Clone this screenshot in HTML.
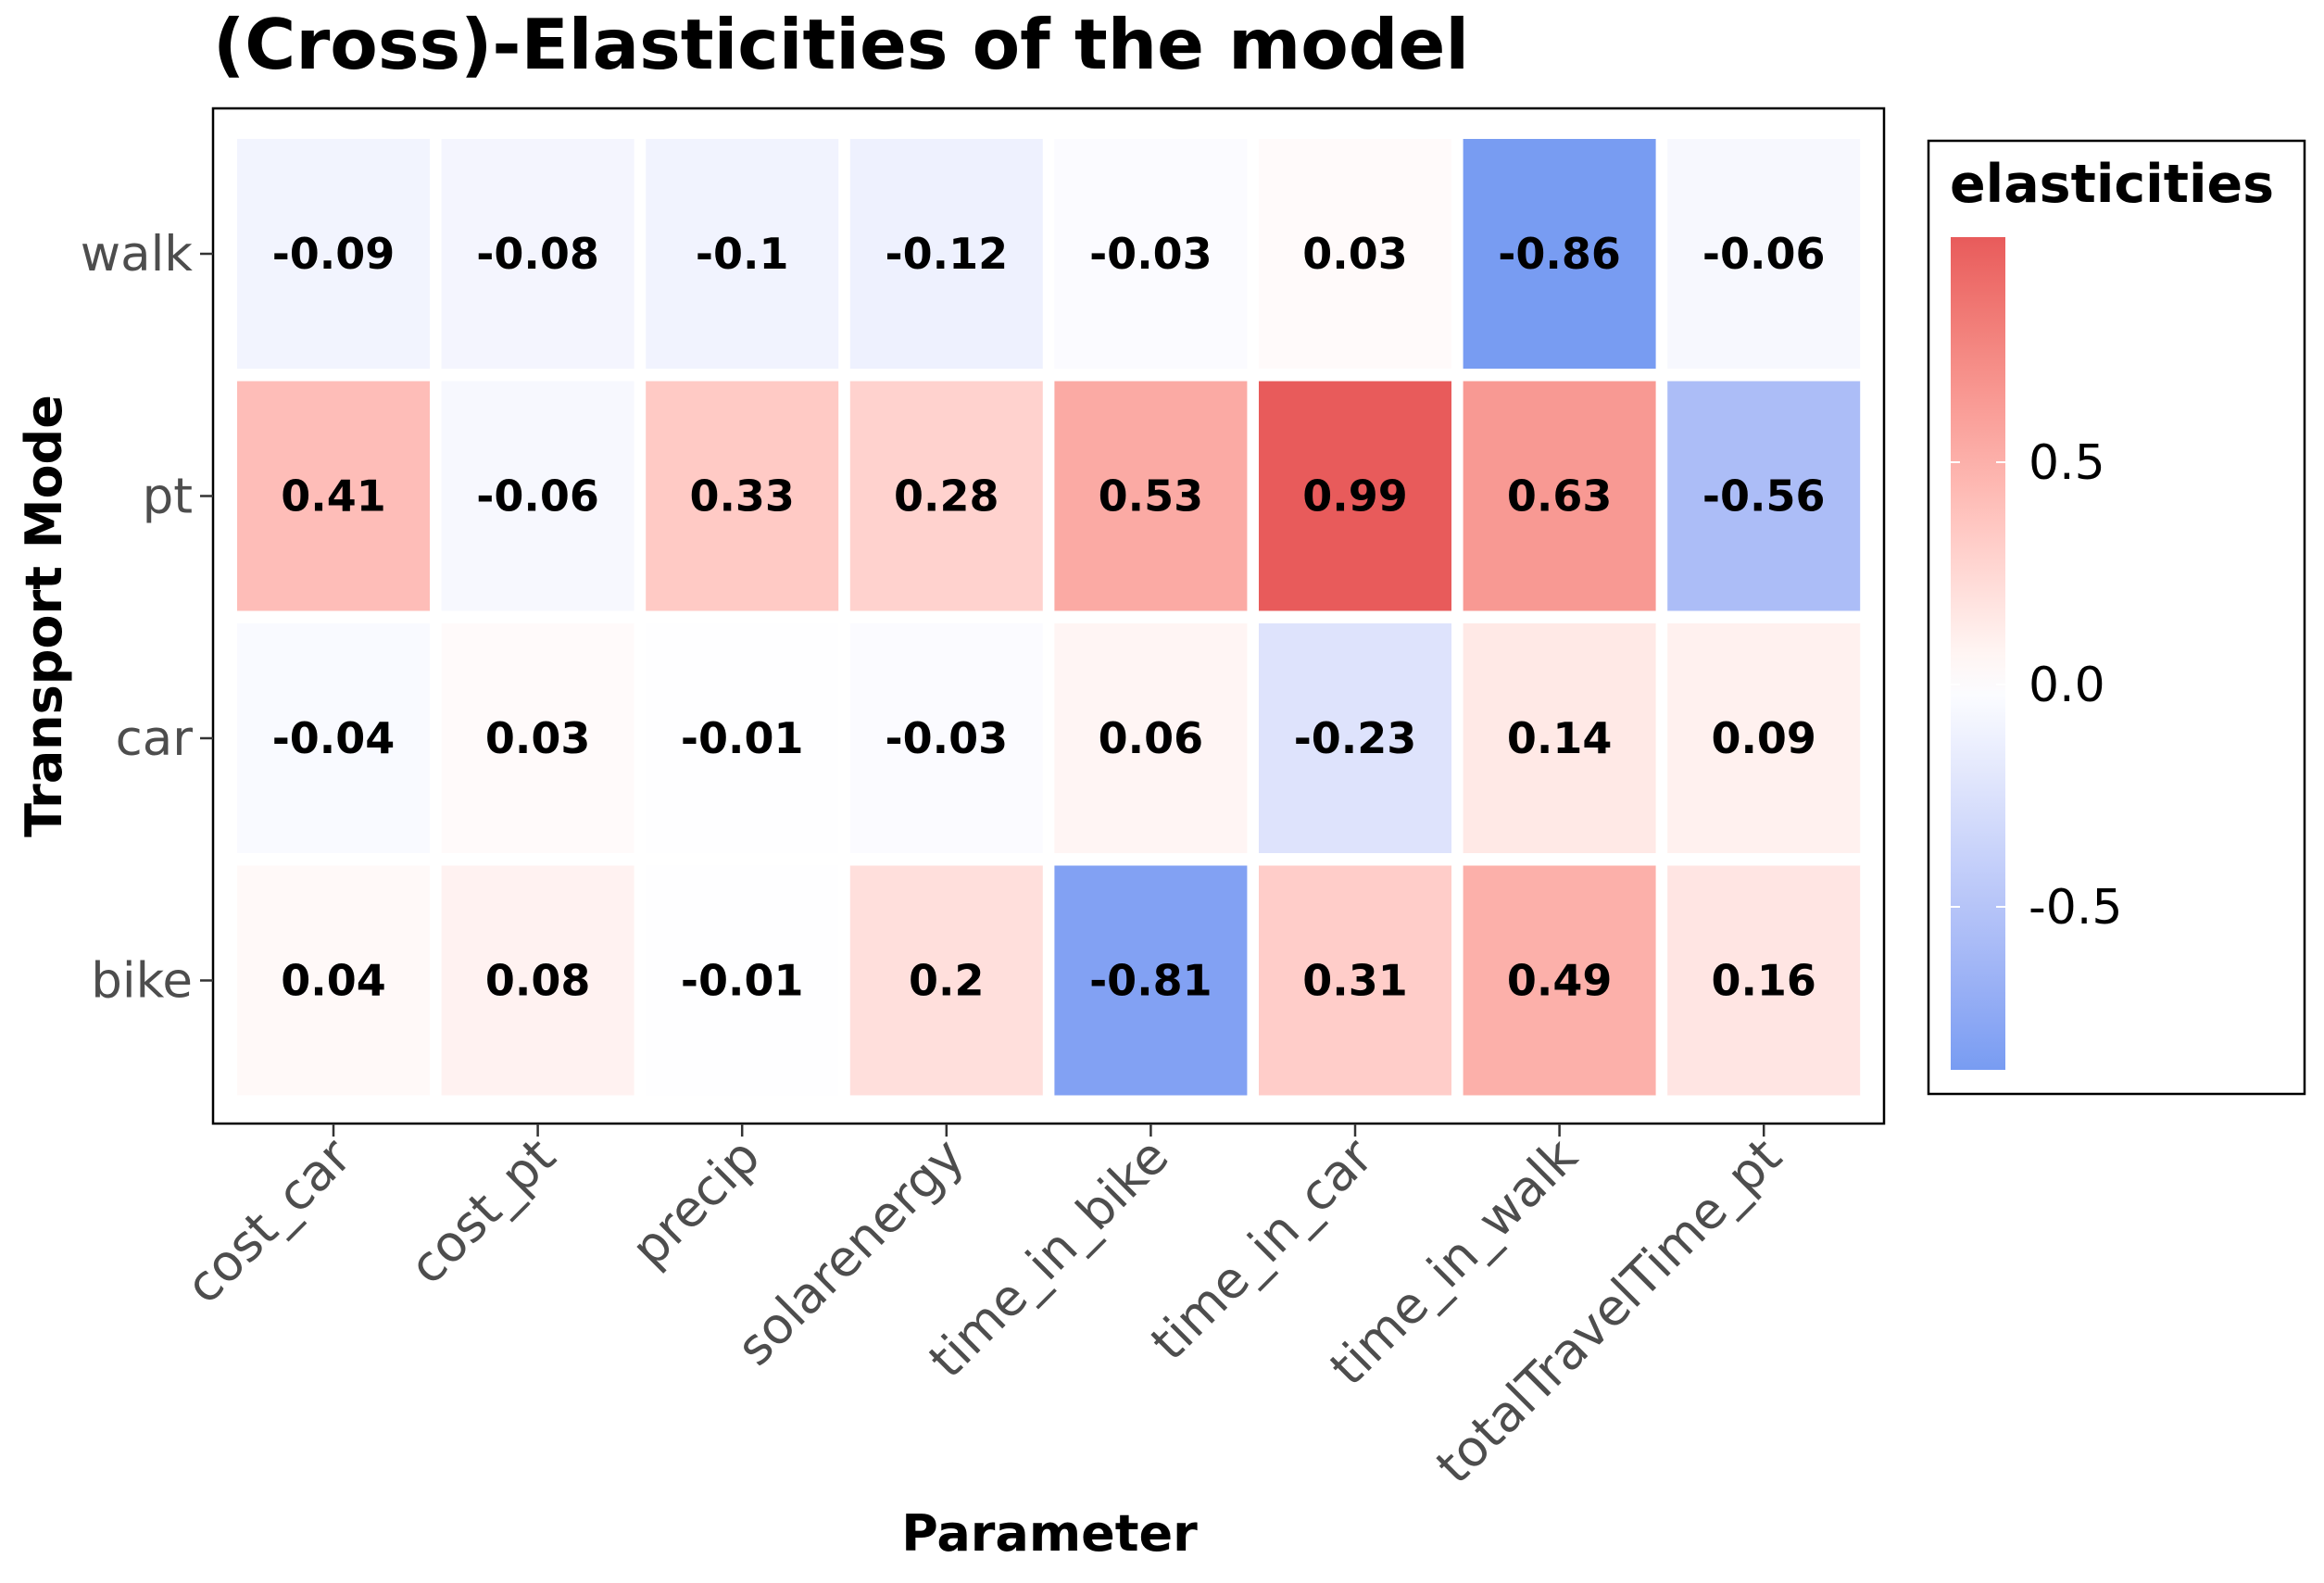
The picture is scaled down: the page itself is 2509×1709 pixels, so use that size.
<!DOCTYPE html>
<html><head><meta charset="utf-8"><style>
html,body{margin:0;padding:0;background:#fff;}
svg{display:block;font-family:"DejaVu Sans","Liberation Sans",sans-serif;}
</style></head><body>
<svg id="chart" width="2509" height="1709" viewBox="0 0 2509 1709">
<text x="230" y="74" font-size="75" font-weight="bold" fill="#000">(Cross)-Elasticities of the model</text>
<rect x="230" y="117" width="1804" height="1096" fill="#fff" stroke="#000" stroke-width="2.5"/>
<g id="cells"></g>
<g id="xaxis"></g>
<g id="yaxis"></g>
<text x="1133" y="1674" font-size="54" font-weight="bold" text-anchor="middle">Parameter</text>
<text transform="translate(66,665) rotate(-90)" font-size="54" font-weight="bold" text-anchor="middle">Transport Mode</text>
<rect x="2082" y="152" width="406" height="1029" fill="#fff" stroke="#000" stroke-width="2.5"/>
<text x="2105" y="218" font-size="57" font-weight="bold">elasticities</text>
<defs><linearGradient id="cb" x1="0" y1="0" x2="0" y2="1">
</linearGradient></defs>
<rect x="2106" y="256" width="59" height="899" fill="url(#cb)"/>
<g id="legend"></g>
</svg>
<script>
const NS="http://www.w3.org/2000/svg";
const params=["cost_car","cost_pt","precip","solarenergy","time_in_bike","time_in_car","time_in_walk","totalTravelTime_pt"];
const modes=["walk","pt","car","bike"];
const walkVals=[-0.09,-0.08,-0.1,-0.12,-0.03,0.03,-0.86,-0.06];
const ptVals=[0.41,-0.06,0.33,0.28,0.53,0.99,0.63,-0.56];
const carVals=[-0.04,0.03,-0.01,-0.03,0.06,-0.23,0.14,0.09];
const bikeVals=[0.04,0.08,-0.01,0.2,-0.81,0.31,0.49,0.16];
const legendTicks=[0.5,0.0,-0.5];
const legendLabels=["0.5","0.0","-0.5"];
const rows=[walkVals,ptVals,carVals,bikeVals];
const vmax=0.99, vmin=-0.86;
const x0=256, pitchX=220.6, tileW=208;
const y0=150, pitchY=261.5, tileH=248;
function xc(i){return x0+pitchX*i+tileW/2;}
function yc(j){return y0+pitchY*j+tileH/2;}
function legY(v){return 739-v*480;}
function toLin(c){c/=255;return c<=0.04045?c/12.92:Math.pow((c+0.055)/1.055,2.4);}
function fromLin(c){c=c<=0.0031308?12.92*c:1.055*Math.pow(c,1/2.4)-0.055;return Math.round(Math.min(1,Math.max(0,c))*255);}
function rgb2lab(r){const l=r.map(toLin);let X=(0.4124*l[0]+0.3576*l[1]+0.1805*l[2])/0.95047,Y=0.2126*l[0]+0.7152*l[1]+0.0722*l[2],Z=(0.0193*l[0]+0.1192*l[1]+0.9505*l[2])/1.08883;
 const f=t=>t>0.008856?Math.cbrt(t):7.787*t+16/116;const fx=f(X),fy=f(Y),fz=f(Z);return[116*fy-16,500*(fx-fy),200*(fy-fz)];}
function lab2rgb(L){const fy=(L[0]+16)/116,fx=fy+L[1]/500,fz=fy-L[2]/200;const g=t=>t*t*t>0.008856?t*t*t:(t-16/116)/7.787;
 const X=g(fx)*0.95047,Y=g(fy),Z=g(fz)*1.08883;
 return[fromLin(3.2406*X-1.5372*Y-0.4986*Z),fromLin(-0.9689*X+1.8758*Y+0.0415*Z),fromLin(0.0557*X-0.2040*Y+1.0570*Z)];}
const W=rgb2lab([255,255,255]),HI=rgb2lab([232,91,91]),LO=rgb2lab([120,156,242]);
function color(v){
  let hi,t;
  if(v>=0){hi=HI;t=v/vmax;} else {hi=LO;t=v/vmin;}
  t=Math.min(1,Math.max(0,t));
  const c=lab2rgb(W.map((w,k)=>w+(hi[k]-w)*t));
  return `rgb(${c[0]},${c[1]},${c[2]})`;
}
function mk(tag,attrs,parent){const e=document.createElementNS(NS,tag);for(const k in attrs)e.setAttribute(k,attrs[k]);parent.appendChild(e);return e;}
const grad=document.getElementById('cb');
for(let k=0;k<=20;k++){const v=vmax-(vmax-vmin)*k/20;mk('stop',{offset:k/20,'stop-color':color(v)},grad);}
const cells=document.getElementById('cells');
rows.forEach((vals,j)=>{vals.forEach((v,i)=>{
  const r=mk('rect',{x:xc(i)-tileW/2,y:yc(j)-tileH/2,width:tileW,height:tileH,fill:color(v)},cells);
  
  
  const t=mk('text',{x:xc(i),y:yc(j)+16,'font-size':46,'font-weight':'bold','text-anchor':'middle',fill:'#000'},cells);
  t.textContent=String(v);
  
  
});});
const xa=document.getElementById('xaxis');
params.forEach((p,i)=>{
  const l=mk('line',{x1:xc(i),x2:xc(i),y1:1213,y2:1227,stroke:'#333','stroke-width':2.5},xa);
  
  
  const t=mk('text',{transform:`translate(${xc(i)+22},${1252}) rotate(-45)`,'font-size':54,'text-anchor':'end',fill:'#4d4d4d'},xa);
  t.textContent=p;
  
  
});
const ya=document.getElementById('yaxis');
modes.forEach((m,j)=>{
  const l=mk('line',{x1:216,x2:230,y1:yc(j),y2:yc(j),stroke:'#333','stroke-width':2.5},ya);
  
  
  const t=mk('text',{x:208,y:yc(j)+18,'font-size':53,'text-anchor':'end',fill:'#4d4d4d'},ya);
  t.textContent=m;
  
  
});
const lg=document.getElementById('legend');
legendTicks.forEach((v,k)=>{
  const a=mk('line',{x1:2106,x2:2116,y1:legY(v),y2:legY(v),stroke:'#fff','stroke-width':2},lg);
  
  
  const b=mk('line',{x1:2155,x2:2165,y1:legY(v),y2:legY(v),stroke:'#fff','stroke-width':2},lg);
  
  
  const t=mk('text',{x:2190,y:legY(v)+18,'font-size':52,fill:'#000'},lg);
  t.textContent=legendLabels[k];
  
  
});
</script>
</body></html>
